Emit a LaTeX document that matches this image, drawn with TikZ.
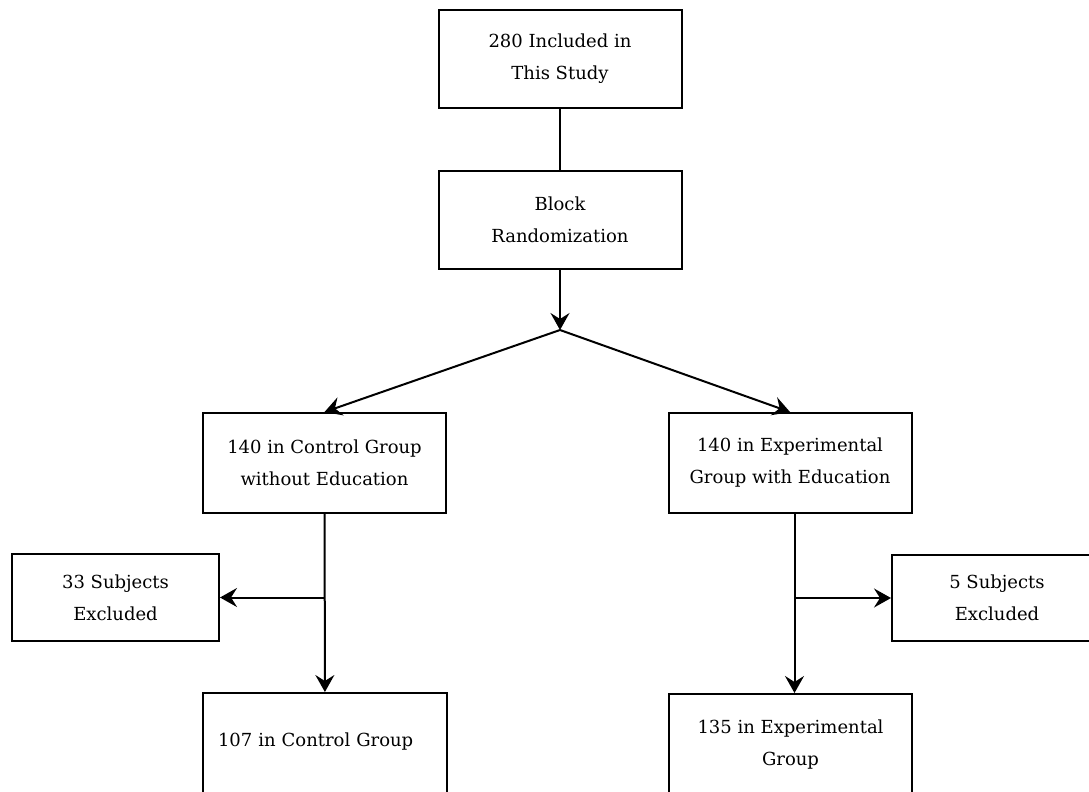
\documentclass[tikz,border=0pt]{standalone}
\usepackage{fontspec}
\setmainfont{DejaVu Serif}
\usetikzlibrary{arrows.meta}

\begin{document}
\begin{tikzpicture}[x=1pt, y=-1pt, line width=2pt,
    >={Stealth[length=17pt, width=19pt, inset=6pt]},
    box/.style={draw, minimum width=243pt, minimum height=98pt, inner sep=0pt,
        align=center, font=\fontsize{18}{32}\selectfont}]
    % Khung hình
    \clip (0,0) rectangle (1089,792);
    % Các hộp
    \node[box] (incl) at (560,59) {280 Included in\\This Study};
    \node[box] (block) at (560,220) {\raisebox{7pt}{\parbox{200pt}{\centering Block\\Randomization}}};
    \coordinate (split) at (560,330);
    \node[box, minimum height=100pt] (ctrl) at (324.5,463) {140 in Control Group\\without Education};
    \node[box, minimum height=100pt] (expt) at (790,463) {140 in Experimental\\Group with Education};
    \node[box, minimum width=207pt, minimum height=87pt] (excl1) at (115.5,597.5) {33 Subjects\\Excluded};
    \node[box, minimum width=210pt, minimum height=86pt] (excl2) at (997,598) {5 Subjects\\Excluded};
    \node[box, minimum width=244pt, minimum height=102pt, align=left, text width=214pt] (ctrl2) at (325,744)
        {\raisebox{9pt}{107 in Control Group}};
    \node[box, minimum height=102pt] (expt2) at (790.5,745) {135 in Experimental\\Group};
    % Các mũi tên
    \draw (incl) -- (block);
    \draw[->] (block) -- (split);
    \draw[->] (split) -- (ctrl.north);
    \draw[->] (split) -- (expt.north);
    \draw[->] (ctrl) -- (ctrl2);
    \coordinate (cut1) at (ctrl.south |- excl1.east);
    \draw[->] (cut1) -- (excl1.east);
    \draw[->] ([xshift=4.5pt]expt.south) -- ([xshift=4pt]expt2.north);
    \coordinate (cut2) at ([xshift=4.5pt]expt.south |- excl2.west);
    \draw[->] (cut2) -- (excl2.west);
\end{tikzpicture}
\end{document}
